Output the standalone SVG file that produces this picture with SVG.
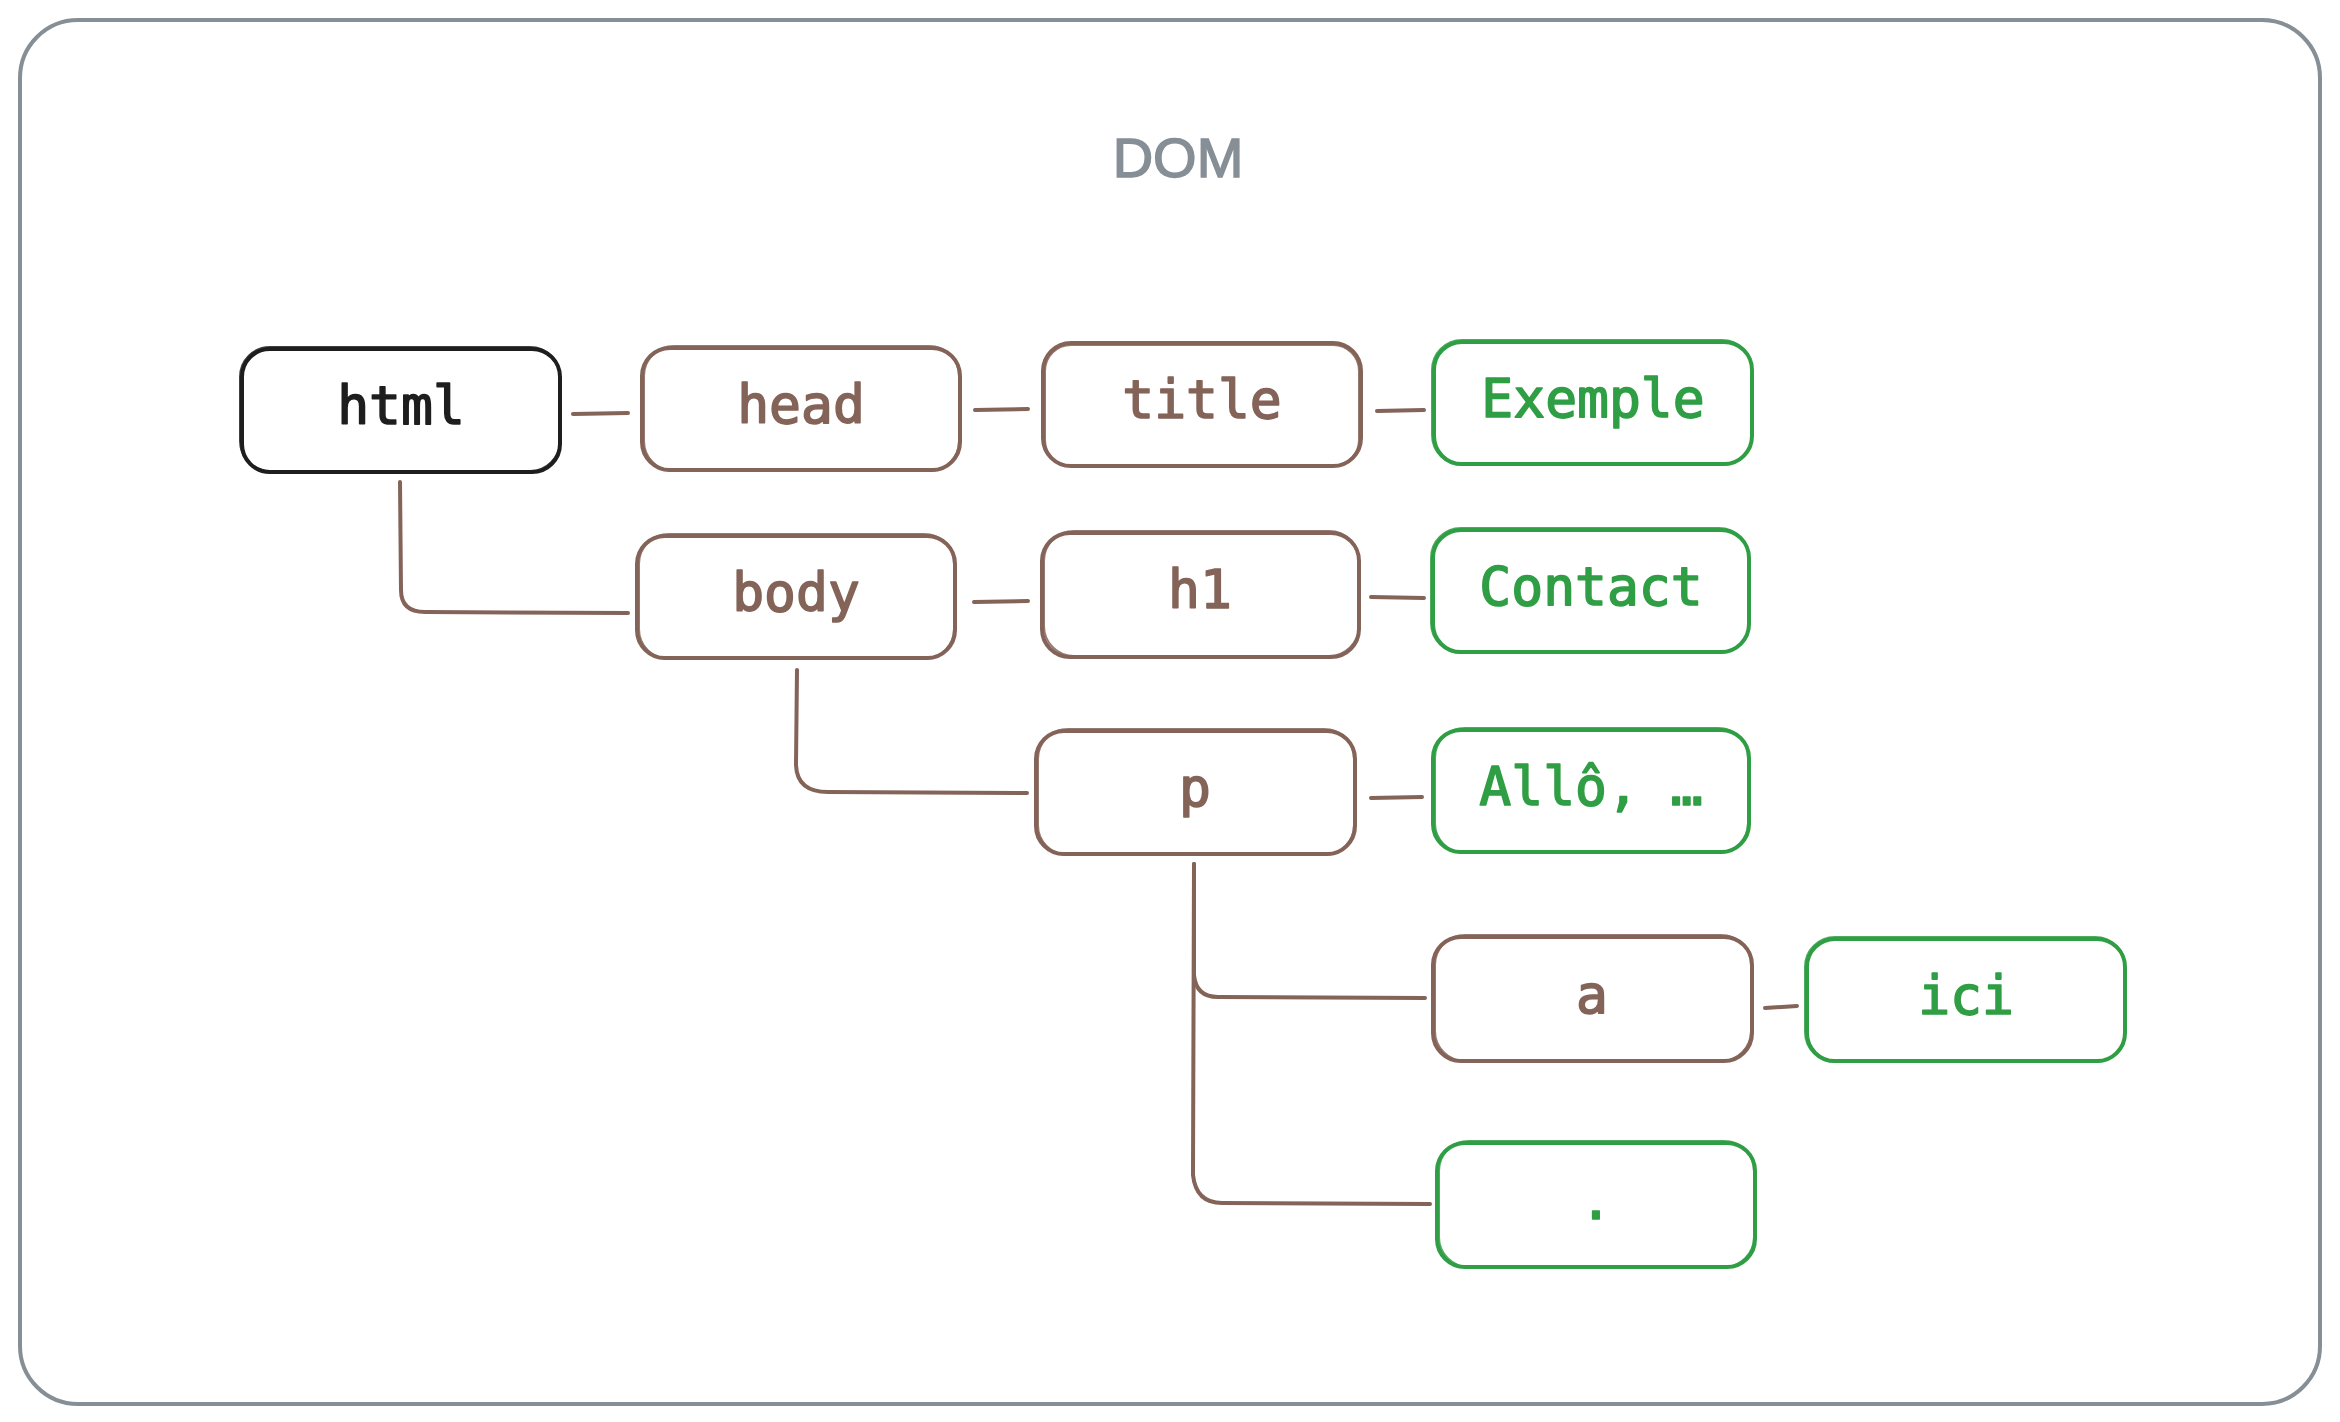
<svg xmlns="http://www.w3.org/2000/svg" width="2340" height="1422" viewBox="0 0 2340 1422">
<style>
.frame{fill:none;stroke:#868e96;stroke-width:4}
.box{fill:#ffffff;stroke-width:4;stroke-linejoin:round}
.box2{fill:none;stroke-width:2;opacity:0.85}
.k{stroke:#1e1e1e}
.b{stroke:#846358}
.g{stroke:#2f9e44}
.t{font-family:"DejaVu Sans Mono","Liberation Mono",monospace;font-size:53px;text-anchor:middle;stroke-width:1.6;stroke-linejoin:round}
.tk{fill:#1e1e1e;stroke:#1e1e1e}
.tb{fill:#846358;stroke:#846358}
.tg{fill:#2f9e44;stroke:#2f9e44}
.title{font-family:"Liberation Sans",Arial,sans-serif;font-size:56px;fill:#868e96;stroke:#868e96;stroke-width:1.5;text-anchor:middle}
.c{fill:none;stroke:#846358;stroke-width:4;stroke-linecap:round;stroke-linejoin:round}
</style>
<rect width="2340" height="1422" fill="#ffffff"/>
<rect class="frame" x="20" y="20" width="2300" height="1384" rx="58"/>
<text class="title" x="1178" y="177">DOM</text>

<g id="connectors">
<path class="c" d="M573 414 L628 413"/>
<path class="c" d="M975 410 L1028 409"/>
<path class="c" d="M1377 411 L1424 410"/>
<path class="c" d="M400 482 L401 590 Q401 612 425 612 L628 613"/>
<path class="c" d="M974 602 L1028 601"/>
<path class="c" d="M1371 597 L1424 598"/>
<path class="c" d="M797 670 L796 765 Q797 792 828 792 L1027 793"/>
<path class="c" d="M1371 798 L1422 797"/>
<path class="c" d="M1194 864 L1194 975 Q1196 997 1218 997 L1425 998"/>
<path class="c" d="M1194 864 L1193 1175 Q1196 1203 1222 1203 L1430 1204"/>
<path class="c" d="M1765 1008 L1797 1006"/>
</g>

<g id="node-html">
<rect class="box k" x="242" y="349" width="318" height="123" rx="28"/>
<rect class="box2 k" x="240" y="347" width="320" height="124" rx="30"/>
<text class="t tk" x="401" y="424">html</text>
</g>
<g id="node-head">
<rect class="box b" x="642" y="348" width="318" height="122" rx="28"/>
<rect class="box2 b" x="644" y="346" width="315" height="125" rx="30"/>
<text class="t tb" x="801" y="423">head</text>
</g>
<g id="node-title">
<rect class="box b" x="1043" y="343" width="318" height="123" rx="28"/>
<rect class="box2 b" x="1045" y="345" width="314" height="121" rx="26"/>
<text class="t tb" x="1202" y="418">title</text>
</g>
<g id="node-exemple">
<rect class="box g" x="1434" y="342" width="318" height="122" rx="28"/>
<rect class="box2 g" x="1432" y="340" width="320" height="125" rx="30"/>
<text class="t tg" x="1593" y="417">Exemple</text>
</g>
<g id="node-body">
<rect class="box b" x="637" y="536" width="318" height="122" rx="28"/>
<rect class="box2 b" x="639" y="534" width="315" height="125" rx="30"/>
<text class="t tb" x="796" y="611">body</text>
</g>
<g id="node-h1">
<rect class="box b" x="1042" y="533" width="317" height="124" rx="28"/>
<rect class="box2 b" x="1044" y="531" width="315" height="125" rx="30"/>
<text class="t tb" x="1200" y="608">h1</text>
</g>
<g id="node-contact">
<rect class="box g" x="1433" y="530" width="316" height="122" rx="28"/>
<rect class="box2 g" x="1431" y="528" width="318" height="125" rx="30"/>
<text class="t tg" x="1591" y="605">Contact</text>
</g>
<g id="node-p">
<rect class="box b" x="1036" y="731" width="319" height="123" rx="28"/>
<rect class="box2 b" x="1038" y="729" width="316" height="126" rx="30"/>
<text class="t tb" x="1195" y="806">p</text>
</g>
<g id="node-allo">
<rect class="box g" x="1433" y="730" width="316" height="122" rx="28"/>
<rect class="box2 g" x="1435" y="728" width="313" height="125" rx="30"/>
<text class="t tg" x="1591" y="805">Allô, …</text>
</g>
<g id="node-a">
<rect class="box b" x="1433" y="937" width="319" height="124" rx="28"/>
<rect class="box2 b" x="1435" y="935" width="316" height="126" rx="30"/>
<text class="t tb" x="1592" y="1013">a</text>
</g>
<g id="node-ici">
<rect class="box g" x="1807" y="939" width="318" height="122" rx="28"/>
<rect class="box2 g" x="1805" y="937" width="320" height="125" rx="30"/>
<text class="t tg" x="1966" y="1014">ici</text>
</g>
<g id="node-dot">
<rect class="box g" x="1437" y="1143" width="318" height="124" rx="28"/>
<rect class="box2 g" x="1439" y="1141" width="315" height="126" rx="30"/>
<text class="t tg" x="1596" y="1219">.</text>
</g>
</svg>
